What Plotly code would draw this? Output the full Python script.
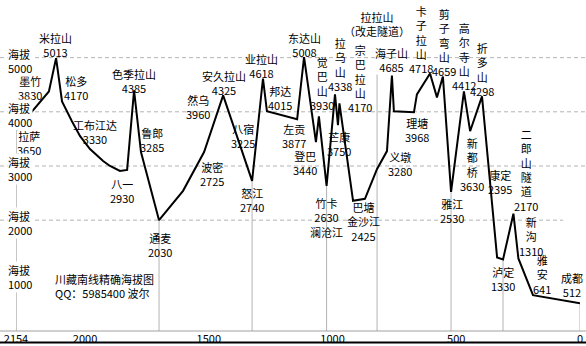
import plotly.graph_objects as go

# ---- profile line (distance to Chengdu in km, altitude in m) ----
dist_km = [2278, 2146, 2117, 2093, 2053, 2020, 1980, 1927, 1899, 1859, 1830, 1802, 1774,
           1701, 1604, 1519, 1442, 1325, 1281, 1265, 1143, 1115, 1067, 1055, 1024, 990,
           978, 972, 917, 869, 820, 780, 760, 752, 671, 659, 606, 578, 554, 521, 469, 444,
           396, 335, 311, 269, 249, 190, 0]
altitude = [3660, 4376, 4991, 4193, 3826, 3550, 3312, 3092, 3000, 2908, 2927, 4394, 3257,
            2000, 2541, 3257, 4303, 2725, 4615, 4009, 3862, 5009, 3440, 3917, 2633, 4321,
            3752, 4156, 2358, 2394, 2945, 3275, 4670, 4009, 3991, 4321, 4706, 4266, 4651,
            2523, 4376, 3642, 4284, 1312, 1275, 2119, 1294, 615, 468]

# drop lines under selected stations (indices into the arrays above)
drop_index = [0, 13, 17, 24, 39, 44, 48]
lala_km = 820
lala_alt = 4688

# ---- axis ticks ----
x_tick_vals = [2279, 2000, 1500, 1000, 500, 0]
x_tick_text = ["2154", "2000", "1500", "1000", "500", "0"]
y_grid = [2000, 3000, 4000, 5000]
y_label_vals = [5000, 4000, 3000, 2000, 1000]

# ---- station labels: text ----
label_text = [
    "米拉山<br>5013", "墨竹<br>3830", "松多<br>4170", "拉萨<br>3650", "工布江达<br>3330",
    "色季拉山<br>4385", "鲁郎<br>3285", "八一<br>2930", "通麦<br>2030", "然乌<br>3960",
    "安久拉山<br>4325", "业拉山<br>4618", "邦达<br>4015", "八宿<br>3225", "波密<br>2725",
    "怒江<br>2740", "东达山<br>5008", "觉<br>巴<br>山<br>3930", "左贡<br>3877", "登巴<br>3440",
    "拉<br>乌<br>山<br>4338", "宗<br>巴<br>拉<br>山<br>4170", "拉拉山<br>（改走隧道）",
    "芒康<br>3750", "竹卡<br>2630<br>澜沧江", "巴塘<br>金沙江<br>2425", "海子山<br>4685",
    "卡<br>子<br>拉<br>山<br>4718", "剪<br>子<br>弯<br>山<br>4659", "高<br>尔<br>寺<br>山<br>4412",
    "折<br>多<br>山<br>4298", "理塘<br>3968", "义墩<br>3280", "新<br>都<br>桥<br>3630",
    "康定<br>2395", "二<br>郎<br>山<br>隧<br>道<br>2170", "雅江<br>2530", "新<br>沟<br>1310",
    "泸定<br>1330", "雅<br>安<br>641", "成都<br>512",
]
# label placement (km, altitude of label centre)
label_pos = [
    (2121, 5239), (2222, 4431), (2036, 4431), (2226, 3431), (1960, 3624),
    (1802, 4578), (1729, 3477), (1850, 2541), (1697, 1550), (1543, 4083),
    (1438, 4541), (1285, 4853), (1212, 4248), (1362, 3550), (1487, 2853),
    (1325, 2376), (1115, 5239), (1042, 4514), (1156, 3550), (1111, 3064),
    (970, 4876), (889, 4622), (820, 5615),
    (974, 3404), (1026, 2040), (873, 1972), (760, 4954),
    (642, 5327), (549, 5279), (469, 5029),
    (396, 4775), (659, 3670), (727, 3046), (436, 3032),
    (323, 2706), (218, 2932), (517, 2165), (198, 1697),
    (311, 917), (154, 994), (32, 798),
]
title_text = "川藏南线精确海拔图<br>QQ：5985400 波尔"

FONT = "Noto Sans CJK SC, Noto Sans, sans-serif"
GRAY = "#b4b4b4"

fig = go.Figure()
fig.add_trace(go.Scatter(x=dist_km, y=altitude, mode="lines",
                         line=dict(color="black", width=2), hoverinfo="skip",
                         showlegend=False))

shapes = []
# dashed horizontal grid
for v in y_grid:
    shapes.append(dict(type="line", xref="paper", yref="y", x0=-16 / 564,
                       x1=(547 / 564 if v == 2000 else 570 / 564), y0=v, y1=v,
                       line=dict(color=GRAY, width=1, dash="4px,3px"), layer="below"))
# drop lines
y_bottom = -46
for i in drop_index:
    shapes.append(dict(type="line", xref="x", yref="y", x0=dist_km[i], x1=dist_km[i],
                       y0=y_bottom, y1=altitude[i], line=dict(color=GRAY, width=1),
                       layer="below"))
shapes.append(dict(type="line", xref="x", yref="y", x0=lala_km, x1=lala_km,
                   y0=y_bottom, y1=lala_alt, line=dict(color=GRAY, width=1), layer="below"))
# bottom axis line and frame line
shapes.append(dict(type="line", xref="paper", yref="paper", x0=-16 / 564, x1=570 / 564,
                   y0=0, y1=0, line=dict(color="#a0a0a0", width=1)))
shapes.append(dict(type="line", xref="paper", yref="paper", x0=-16 / 564, x1=570 / 564,
                   y0=-0.0345, y1=-0.0345, line=dict(color="black", width=2)))

annotations = []
for txt, (x, y) in zip(label_text, label_pos):
    annotations.append(dict(x=x, y=y, xref="x", yref="y", text=txt, showarrow=False,
                            xanchor="center", yanchor="middle",
                            font=dict(family=FONT, size=11, color="black")))
annotations.append(dict(x=2129, y=789, xref="x", yref="y", text=title_text, showarrow=False,
                        xanchor="left", yanchor="middle", align="left",
                        font=dict(family=FONT, size=11, color="black")))
for v in y_label_vals:
    annotations.append(dict(x=-9 / 564, y=v, xref="paper", yref="y",
                            text="海拔<br>%d" % v, showarrow=False, xanchor="left",
                            yanchor="middle", align="left", yshift=-3, bgcolor="white",
                            borderpad=0,
                            font=dict(family=FONT, size=11, color="black")))

fig.update_layout(
    width=586, height=346,
    margin=dict(l=16, r=6, t=0, b=13),
    paper_bgcolor="white", plot_bgcolor="white",
    shapes=shapes, annotations=annotations,
    xaxis=dict(range=[2279, 0], tickmode="array", tickvals=x_tick_vals,
               ticktext=x_tick_text, showgrid=False, zeroline=False, showline=False,
               ticks="", tickfont=dict(family=FONT, size=11, color="black")),
    yaxis=dict(range=[y_bottom, 6064], showgrid=False, zeroline=False,
               showticklabels=False, showline=False, ticks=""),
)

fig.write_html("out.html")
